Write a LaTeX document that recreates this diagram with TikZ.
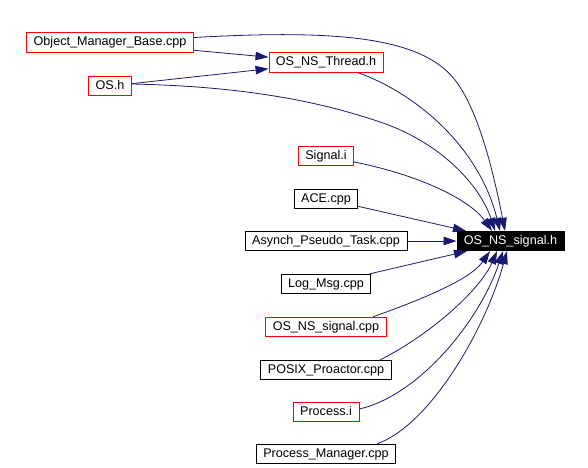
\documentclass[tikz,border=0pt]{standalone}
\usepackage{fontspec}
\setmainfont{Liberation Sans}
\usepackage{tikz}
\usetikzlibrary{arrows.meta}
\definecolor{navy}{HTML}{191970}

\begin{document}
\begin{tikzpicture}[
	  x=1pt, y=-1pt,
	  every node/.style = {shape=rectangle, draw, line width=0.8pt, inner xsep=7pt, inner ysep=0pt,
	    minimum height=19.5pt, text height=9.2pt, text depth=2.6pt, font=\fontsize{12.6}{15}\selectfont},
	  file/.style = {draw=black},
	  redfile/.style = {draw=red},
	  target/.style = {draw=black, fill=black, text=white},
	  dep/.style = {draw=navy, line width=0.8pt, -{Triangle[length=13pt,width=8.5pt]}}
	]
	  \useasboundingbox (0,0) rectangle (588,467);

	  % includers
	  \node[redfile] (objmgr) at (110,42.5) {Object\_Manager\_Base.cpp};
	  \node[redfile] (thread) at (326,62.5) {OS\_NS\_Thread.h};
	  \node[redfile] (osh) at (110,86) {OS.h};
	  \node[redfile] (sigi) at (326,156) {Signal.i};
	  \node[file] (ace) at (326,199) {ACE.cpp};
	  \node[file] (asynch) at (326,241) {Asynch\_Pseudo\_Task.cpp};
	  \node[file] (logmsg) at (326,284) {Log\_Msg.cpp};
	  \node[redfile] (oscpp) at (326,327) {OS\_NS\_signal.cpp};
	  \node[file] (posix) at (326,370) {POSIX\_Proactor.cpp};
	  \node[redfile] (proci) at (326,412) {Process.i};
	  \node[file] (procmgr) at (326,454) {Process\_Manager.cpp};

	  % included header
	  \node[target] (sigh) at (510.5,241) {OS\_NS\_signal.h};

	  % edges
	  \draw[dep] (objmgr) -- (thread);
	  \draw[dep] (osh) -- (thread);
	  \draw[dep] ([yshift=5pt]objmgr.east) .. controls (330,30) and (420,35) .. (455,80)
	    .. controls (480,112) and (495,180) .. ([xshift=-5.5pt]sigh.north);
	  \draw[dep] ([xshift=32pt]thread.south) .. controls (420,95) and (480,150) .. ([xshift=-10.5pt]sigh.north);
	  \draw[dep] ([yshift=2pt]osh.east) .. controls (230,86) and (310,98) .. (380,122)
	    .. controls (440,142) and (480,185) .. ([xshift=-15.5pt]sigh.north);
	  \draw[dep] ([yshift=-6pt]sigi.east) .. controls (420,175) and (470,200) .. ([xshift=-18.5pt]sigh.north);
	  \draw[dep] (ace) -- (sigh);
	  \draw[dep] (asynch) -- (sigh);
	  \draw[dep] (logmsg) -- (sigh);
	  \draw[dep] ([xshift=47pt]oscpp.north) .. controls (420,300) and (470,280) .. ([xshift=-20.5pt]sigh.south);
	  \draw[dep] ([xshift=54pt]posix.north) .. controls (430,335) and (480,290) .. ([xshift=-13.5pt]sigh.south);
	  \draw[dep] ([yshift=3pt]proci.east) .. controls (420,395) and (480,320) .. ([xshift=-7.5pt]sigh.south);
	  \draw[dep] ([xshift=51pt]procmgr.north) .. controls (430,425) and (485,330) .. ([xshift=-3.5pt]sigh.south);
	\end{tikzpicture}
\end{document}
